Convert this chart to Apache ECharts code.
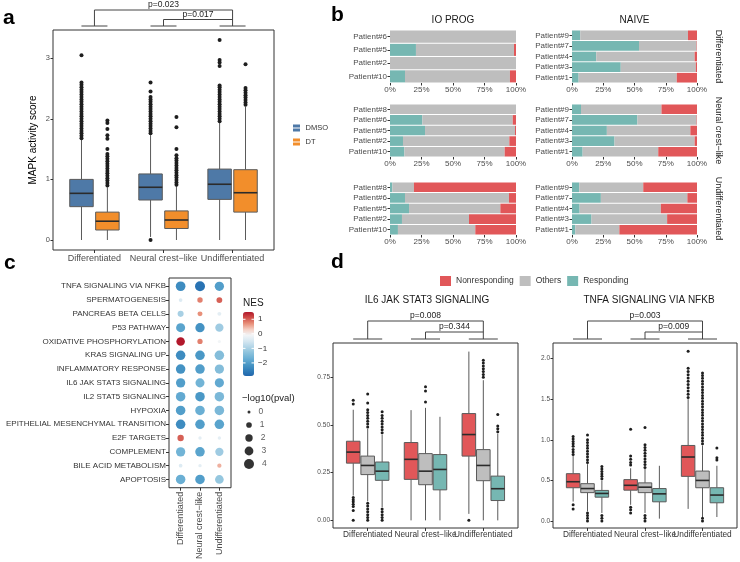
<!DOCTYPE html>
<html>
<head>
<meta charset="utf-8">
<title>MAPK activity and response panels</title>
<script src="https://cdn.jsdelivr.net/npm/echarts@6/dist/echarts.min.js"></script>
<style>html,body{margin:0;padding:0;background:#fff}</style>
</head>
<body>
<div id="main" style="width:740px;height:562px;"></div>
<script>
const FONT = '"Liberation Sans", Arial, Helvetica, sans-serif';
const AX = '#4D4D4D';
const LINE = '#333';

const groups = ['Differentiated', 'Neural crest\u2212like', 'Undifferentiated'];

// ---- panel a: [low whisker, q1, median, q3, high whisker]
const mapkDMSO = [[0, 0.55, 0.77, 1.0, 1.65], [0.05, 0.66, 0.87, 1.09, 1.73], [0, 0.67, 0.92, 1.17, 1.93]];
const mapkDT = [[0, 0.165, 0.31, 0.46, 0.87], [0, 0.19, 0.33, 0.48, 0.89], [0, 0.46, 0.78, 1.16, 2.2]];
const mapkDMSOOut = [
  [1.68, 1.72, 1.76, 1.8, 1.84, 1.88, 1.92, 1.96, 2.0, 2.04, 2.08, 2.12, 2.16, 2.2, 2.24, 2.28, 2.32, 2.36, 2.4, 2.44, 2.48, 2.52, 2.56, 2.6, 3.05],
  [0.0, 1.76, 1.8, 1.84, 1.88, 1.92, 1.96, 2.0, 2.04, 2.08, 2.12, 2.16, 2.2, 2.24, 2.28, 2.32, 2.36, 2.45, 2.6],
  [1.96, 2.0, 2.04, 2.08, 2.12, 2.16, 2.2, 2.24, 2.28, 2.32, 2.36, 2.4, 2.44, 2.48, 2.52, 2.55, 2.87, 2.93, 2.97, 3.3]
];
const mapkDTOut = [
  [0.9, 0.94, 0.98, 1.02, 1.06, 1.1, 1.14, 1.18, 1.22, 1.26, 1.3, 1.34, 1.38, 1.42, 1.5, 1.67, 1.73, 1.83, 1.93, 1.97],
  [0.91, 0.95, 0.99, 1.03, 1.07, 1.11, 1.15, 1.19, 1.23, 1.27, 1.31, 1.35, 1.4, 1.5, 1.86, 2.03],
  [2.23, 2.27, 2.31, 2.35, 2.39, 2.43, 2.47, 2.51, 2.9]
];
const mapkP = ['p=0.023', 'p=0.017'];

// ---- panel b: percent of cells per patient (top to bottom)
const ioPatients = [
  ['Patient#6', 'Patient#5', 'Patient#2', 'Patient#10'],
  ['Patient#8', 'Patient#6', 'Patient#5', 'Patient#2', 'Patient#10'],
  ['Patient#8', 'Patient#6', 'Patient#5', 'Patient#2', 'Patient#10']
];
const naivePatients = ['Patient#9', 'Patient#7', 'Patient#4', 'Patient#3', 'Patient#1'];
const ioResp = [[0, 20.6, 0, 11.9], [0, 25.7, 27.8, 10.3, 11.4], [1.9, 11.9, 15.1, 9.5, 6.3]];
const ioOther = [[100, 77.8, 100, 83.3], [100, 71.7, 71.4, 84.4, 79.6], [17.1, 82.5, 72.5, 53.2, 61.4]];
const ioNonresp = [[0, 1.6, 0, 4.8], [0, 2.6, 0.8, 5.3, 9.0], [81.0, 5.6, 12.4, 37.3, 32.3]];
const naiveResp = [[6.6, 53.6, 19.4, 39.0, 5.3], [7.2, 52.3, 27.9, 34.0, 8.5], [5.8, 23.1, 6.1, 15.6, 2.7]];
const naiveOther = [[86.2, 46.1, 78.7, 60.0, 78.5], [64.4, 47.4, 66.8, 64.1, 60.5], [51.2, 69.2, 65.0, 60.5, 35.2]];
const naiveNonresp = [[7.2, 0.3, 1.9, 1.0, 16.2], [28.4, 0.3, 5.3, 1.9, 31.0], [43.0, 7.7, 28.9, 23.9, 62.1]];
const cohorts = ['IO PROG', 'NAIVE'];

// ---- panel c: hallmark GSEA
const hallmarks = ['TNFA SIGNALING VIA NFKB', 'SPERMATOGENESIS', 'PANCREAS BETA CELLS', 'P53 PATHWAY',
  'OXIDATIVE PHOSPHORYLATION', 'KRAS SIGNALING UP', 'INFLAMMATORY RESPONSE', 'IL6 JAK STAT3 SIGNALING',
  'IL2 STAT5 SIGNALING', 'HYPOXIA', 'EPITHELIAL MESENCHYMAL TRANSITION', 'E2F TARGETS', 'COMPLEMENT',
  'BILE ACID METABOLISM', 'APOPTOSIS'];
const nesDiff = [-2.3, -0.4, -1.0, -1.9, 1.5, -2.3, -2.2, -2.0, -1.8, -2.0, -2.3, 1.0, -1.6, -0.4, -1.7];
const nesNeural = [-2.7, 0.8, 0.7, -2.2, 0.8, -2.1, -2.0, -1.6, -2.1, -1.7, -2.0, -0.3, -1.9, -0.3, -2.0];
const nesUndiff = [-2.0, 1.0, -0.3, -1.1, -0.1, -1.4, -1.4, -1.8, -1.5, -1.5, -1.9, -0.3, -1.1, 0.5, -1.2];
const logpDiff = [3.7, 0.2, 1.2, 3.2, 2.8, 3.6, 3.6, 3.4, 3.6, 3.6, 3.6, 1.4, 3.4, 0.2, 3.6];
const logpNeural = [4.0, 0.9, 0.7, 3.4, 0.8, 3.6, 3.6, 3.2, 3.6, 3.6, 3.6, 0.1, 3.6, 0.1, 3.6];
const logpUndiff = [3.4, 1.1, 0.3, 2.6, 0.05, 3.6, 3.4, 3.3, 3.6, 3.6, 3.6, 0.1, 2.6, 0.4, 2.9];
const sizeLegend = [0, 1, 2, 3, 4];
const nesTicks = [1, 0, -1, -2];

// ---- panel d: [low, q1, median, q3, high]
const il6Non = [[0.13, 0.30, 0.358, 0.415, 0.58], [0.0, 0.215, 0.32, 0.408, 0.578], [0.034, 0.337, 0.45, 0.56, 0.885]];
const il6Oth = [[0.1, 0.24, 0.288, 0.337, 0.48], [0.0, 0.187, 0.258, 0.35, 0.59], [0.0, 0.208, 0.288, 0.371, 0.735]];
const il6Res = [[0.07, 0.21, 0.258, 0.306, 0.45], [0.0, 0.16, 0.267, 0.345, 0.543], [0.0, 0.104, 0.166, 0.232, 0.455]];
const il6NonOut = [[0.0, 0.052, 0.073, 0.085, 0.097, 0.108, 0.12, 0.61, 0.63], [], [0.0]];
const il6OthOut = [[0.0, 0.015, 0.03, 0.045, 0.06, 0.075, 0.09, 0.49, 0.505, 0.52, 0.535, 0.55, 0.565, 0.58, 0.616, 0.662],
  [0.62, 0.678, 0.70], [0.75, 0.765, 0.78, 0.795, 0.81, 0.825, 0.84]];
const il6ResOut = [[0.0, 0.015, 0.03, 0.045, 0.06, 0.46, 0.475, 0.49, 0.505, 0.52, 0.535, 0.55, 0.57], [], [0.465, 0.48, 0.495, 0.555]];
const il6P = ['p=0.008', 'p=0.344'];

const tnfNon = [[0.24, 0.41, 0.484, 0.583, 0.8], [0.2, 0.38, 0.44, 0.51, 0.65], [0.15, 0.55, 0.788, 0.93, 1.5]];
const tnfOth = [[0.12, 0.35, 0.40, 0.46, 0.7], [0.1, 0.35, 0.417, 0.47, 0.64], [0.05, 0.41, 0.5, 0.615, 0.93]];
const tnfRes = [[0.1, 0.294, 0.34, 0.377, 0.5], [0.03, 0.237, 0.335, 0.4, 0.68], [0.05, 0.225, 0.32, 0.41, 0.68]];
const tnfNonOut = [[0.15, 0.2, 0.82, 0.85, 0.88, 0.92, 0.95, 0.98, 1.01, 1.04], [0.1, 0.14, 0.17, 0.69, 0.72, 0.76, 0.8, 1.13],
  [1.52, 1.56, 1.6, 1.64, 1.68, 1.72, 1.76, 1.8, 1.84, 1.88, 2.09]];
const tnfOthOut = [[0.0, 0.035, 0.07, 0.1, 0.72, 0.755, 0.79, 0.825, 0.86, 0.895, 0.93, 0.965, 1.0, 1.06],
  [0.0, 0.035, 0.07, 0.66, 0.695, 0.73, 0.765, 0.8, 0.835, 0.87, 0.905, 0.94, 1.15],
  [0.0, 0.035, 0.95, 0.985, 1.02, 1.055, 1.09, 1.125, 1.16, 1.195, 1.23, 1.265, 1.3, 1.335, 1.37, 1.405, 1.44, 1.475,
    1.51, 1.545, 1.58, 1.615, 1.65, 1.685, 1.72, 1.755, 1.79, 1.82]];
const tnfResOut = [[0.0, 0.035, 0.07, 0.52, 0.55, 0.58, 0.61, 0.64, 0.67], [], [0.75, 0.78, 0.9]];
const tnfP = ['p=0.003', 'p=0.009'];

const C_DMSO = '#4E79A7', C_DT = '#F28E2B';
const C_NON = '#E15759', C_OTH = '#BEBEBE', C_RES = '#76B7B2';

const chart = echarts.init(document.getElementById('main'));

function boxRender(offset, width) {
  return function (params, api) {
    const x = api.value(0) + offset;
    const lo = api.coord([x, api.value(1)]);
    const q1 = api.coord([x, api.value(2)]);
    const md = api.coord([x, api.value(3)]);
    const q3 = api.coord([x, api.value(4)]);
    const hi = api.coord([x, api.value(5)]);
    const w = api.size([width, 0])[0];
    const fill = api.visual('color');
    return {
      type: 'group',
      children: [
        { type: 'line', shape: { x1: lo[0], y1: lo[1], x2: q1[0], y2: q1[1] }, style: { stroke: '#5A5A5A', lineWidth: 1 } },
        { type: 'line', shape: { x1: q3[0], y1: q3[1], x2: hi[0], y2: hi[1] }, style: { stroke: '#5A5A5A', lineWidth: 1 } },
        { type: 'rect', shape: { x: q1[0] - w / 2, y: q3[1], width: w, height: q1[1] - q3[1] }, style: { fill: fill, stroke: '#5A5A5A', lineWidth: 1 } },
        { type: 'line', shape: { x1: md[0] - w / 2, y1: md[1], x2: md[0] + w / 2, y2: md[1] }, style: { stroke: '#2B2B2B', lineWidth: 1.6 } }
      ]
    };
  };
}

function boxSeries(name, stats, offset, width, color, axis) {
  return {
    name: name, type: 'custom', xAxisIndex: axis, yAxisIndex: axis,
    renderItem: boxRender(offset, width),
    itemStyle: { color: color },
    encode: { x: 0, y: [1, 2, 3, 4, 5] },
    data: stats.map((s, i) => [i + 1].concat(s))
  };
}

function outlierSeries(name, outs, offset, axis, size) {
  const pts = [];
  outs.forEach((vals, i) => vals.forEach(v => pts.push([i + 1 + offset, v])));
  return {
    name: name, type: 'scatter', xAxisIndex: axis, yAxisIndex: axis, data: pts,
    symbolSize: size, itemStyle: { color: '#1E1E1E', opacity: 1 }, z: 3
  };
}

function groupXAxis(grid, fontSize, color, showLabel) {
  return {
    gridIndex: grid, type: 'value', min: 0.4, max: 3.6,
    axisLine: { show: false, onZero: false }, splitLine: { show: false },
    axisTick: { show: true, customValues: [1, 2, 3], length: 3, lineStyle: { color: LINE } },
    axisLabel: { show: showLabel !== false, customValues: [1, 2, 3], formatter: v => groups[Math.round(v) - 1], fontSize: fontSize,
      color: color, margin: 4, hideOverlap: false, showMinLabel: true, showMaxLabel: true }
  };
}

function valueYAxis(grid, min, max, ticks, fontSize, digits) {
  return {
    gridIndex: grid, type: 'value', min: min, max: max,
    axisLine: { show: false, onZero: false }, splitLine: { show: false },
    axisTick: { show: true, customValues: ticks, length: 2.5, lineStyle: { color: LINE } },
    axisLabel: { customValues: ticks, fontSize: fontSize, color: AX, margin: 3,
      formatter: v => digits == null ? String(v) : v.toFixed(digits) }
  };
}

const frame = { show: true, borderColor: LINE, borderWidth: 1, backgroundColor: 'transparent' };
const grids = [], xAxes = [], yAxes = [], series = [];

// panel a (axis 0)
grids.push(Object.assign({ left: 53, top: 30, width: 221, height: 220 }, frame));
xAxes.push(groupXAxis(0, 9, AX));
yAxes.push(Object.assign(valueYAxis(0, -0.165, 3.465, [0, 1, 2, 3], 7.5, null), {
  name: 'MAPK activity score', nameLocation: 'middle', nameGap: 15,
  nameTextStyle: { fontSize: 10, color: '#000' }
}));
series.push(boxSeries('DMSO', mapkDMSO, -0.1875, 0.34, C_DMSO, 0));
series.push(boxSeries('DT', mapkDT, 0.1875, 0.34, C_DT, 0));
series.push(outlierSeries('a out DMSO', mapkDMSOOut, -0.1875, 0, 4));
series.push(outlierSeries('a out DT', mapkDTOut, 0.1875, 0, 4));

// panel b (axes 1..6)
const rowTops = [30, 104, 182];
for (let r = 0; r < 3; r++) {
  for (let c = 0; c < 2; c++) {
    const idx = grids.length;
    grids.push({ left: c ? 572 : 390, top: rowTops[r], width: c ? 125 : 126, height: 53 });
    xAxes.push({
      gridIndex: idx, type: 'value', min: 0, max: 100, interval: 25,
      axisLine: { show: false, onZero: false }, splitLine: { show: false },
      axisTick: { show: true, length: 2.5, lineStyle: { color: LINE } },
      axisLabel: { formatter: '{value}%', fontSize: 8, color: AX, margin: 3 }
    });
    yAxes.push({
      gridIndex: idx, type: 'category', inverse: true, data: c ? naivePatients : ioPatients[r],
      axisLine: { show: false }, splitLine: { show: false },
      axisTick: { show: true, length: 2.5, alignWithLabel: true, lineStyle: { color: LINE } },
      axisLabel: { fontSize: 8, color: AX, margin: 3 }
    });
    const parts = c
      ? [['Responding', naiveResp[r], C_RES], ['Others', naiveOther[r], C_OTH], ['Nonresponding', naiveNonresp[r], C_NON]]
      : [['Responding', ioResp[r], C_RES], ['Others', ioOther[r], C_OTH], ['Nonresponding', ioNonresp[r], C_NON]];
    parts.forEach(p => series.push({
      name: p[0], type: 'bar', stack: 'b' + idx, xAxisIndex: idx, yAxisIndex: idx,
      data: p[1], itemStyle: { color: p[2] }, barCategoryGap: '9%'
    }));
  }
}

// panel c (axis 7) and size legend (axis 10)
grids.push(Object.assign({ left: 169, top: 278, width: 62, height: 213 }, frame));
xAxes.push(groupXAxis(7, 9, AX));
xAxes[7].axisLabel.rotate = 90;
yAxes.push({
  gridIndex: 7, type: 'value', min: 0.4, max: 15.6, inverse: true,
  axisLine: { show: false, onZero: false }, splitLine: { show: false },
  axisTick: { show: true, customValues: hallmarks.map((h, i) => i + 1), length: 3, lineStyle: { color: LINE } },
  axisLabel: { customValues: hallmarks.map((h, i) => i + 1), formatter: v => hallmarks[Math.round(v) - 1],
    fontSize: 8, color: '#333', margin: 3, hideOverlap: false }
});
const dotSize = val => Math.sqrt(9 + 22.75 * val);
const dotData = [];
[[nesDiff, logpDiff], [nesNeural, logpNeural], [nesUndiff, logpUndiff]].forEach((col, ci) => {
  hallmarks.forEach((h, ri) => dotData.push([ci + 1, ri + 1, col[0][ri], col[1][ri]]));
});
const dotSeriesIndex = series.length;
series.push({
  name: 'NES', type: 'scatter', xAxisIndex: 7, yAxisIndex: 7, data: dotData,
  symbolSize: v => dotSize(v[3]), itemStyle: { opacity: 1 }
});

// panel d (axes 8, 9); group names placed below as text (they touch each other)
grids.push(Object.assign({ left: 333, top: 343, width: 185, height: 185 }, frame));
xAxes.push(groupXAxis(8, 8.5, '#333', false));
yAxes.push(valueYAxis(8, -0.04, 0.93, [0, 0.25, 0.5, 0.75], 6.5, 2));
series.push(boxSeries('Nonresponding', il6Non, -0.25, 0.235, C_NON, 8));
series.push(boxSeries('Others', il6Oth, 0, 0.235, C_OTH, 8));
series.push(boxSeries('Responding', il6Res, 0.25, 0.235, C_RES, 8));
series.push(outlierSeries('d out 1', il6NonOut, -0.25, 8, 3));
series.push(outlierSeries('d out 2', il6OthOut, 0, 8, 3));
series.push(outlierSeries('d out 3', il6ResOut, 0.25, 8, 3));

grids.push(Object.assign({ left: 553, top: 343, width: 184, height: 185 }, frame));
xAxes.push(groupXAxis(9, 8.5, '#333', false));
yAxes.push(valueYAxis(9, -0.085, 2.19, [0, 0.5, 1, 1.5, 2], 6.5, 1));
series.push(boxSeries('Nonresponding', tnfNon, -0.25, 0.235, C_NON, 9));
series.push(boxSeries('Others', tnfOth, 0, 0.235, C_OTH, 9));
series.push(boxSeries('Responding', tnfRes, 0.25, 0.235, C_RES, 9));
series.push(outlierSeries('d out 4', tnfNonOut, -0.25, 9, 3));
series.push(outlierSeries('d out 5', tnfOthOut, 0, 9, 3));
series.push(outlierSeries('d out 6', tnfResOut, 0.25, 9, 3));

// size legend for panel c (axis 10)
grids.push({ left: 239, top: 405.5, width: 20, height: 65 });
xAxes.push({ gridIndex: 10, type: 'value', min: 0, max: 1, show: false });
yAxes.push({ gridIndex: 10, type: 'value', min: -0.5, max: 4.5, inverse: true, show: false });
series.push({
  name: 'size legend', type: 'scatter', xAxisIndex: 10, yAxisIndex: 10,
  data: sizeLegend.map(v => [0.5, v]), symbolSize: v => dotSize(v[1]),
  itemStyle: { color: '#000' },
  label: { show: true, position: 'right', distance: 8, formatter: p => String(p.value[1]), fontSize: 8.5, color: '#333' }
});

chart.setOption({
  animation: false,
  textStyle: { fontFamily: FONT },
  grid: grids, xAxis: xAxes, yAxis: yAxes, series: series,
  legend: [
    {
      left: 288, top: 119, orient: 'vertical', itemWidth: 8, itemHeight: 7, itemGap: 6,
      textStyle: { fontSize: 7.5, color: '#333' },
      data: [
        { name: 'DMSO', icon: 'path://M0,0H10V4.2H0Z M0,5.8H10V10H0Z' },
        { name: 'DT', icon: 'path://M0,0H10V4.2H0Z M0,5.8H10V10H0Z' }
      ]
    },
    {
      left: 435, top: 271, orient: 'horizontal', itemWidth: 11, itemHeight: 10, itemGap: 6, icon: 'rect',
      textStyle: { fontSize: 8.5, color: '#333' },
      data: ['Nonresponding', 'Others', 'Responding']
    }
  ],
  visualMap: {
    type: 'continuous', seriesIndex: dotSeriesIndex, dimension: 2,
    min: -2.9, max: 1.5, calculable: false, hoverLink: false,
    left: 243, top: 312, itemWidth: 11, itemHeight: 64, padding: 0,
    inRange: { color: ['#2166AC', '#3280BA', '#4A98C6', '#6AAFD4', '#8CC2DC', '#B2D5E7', '#D6E7F1',
      '#F2F5F7', '#F5D0C4', '#E8907A', '#D0504A', '#B2182B'] }
  }
});

// annotations: panel letters, strips, titles, colourbar ticks, significance brackets
const g = [];
function txt(x, y, text, size, opt) {
  g.push(Object.assign({
    type: 'text', x: x, y: y,
    style: Object.assign({ text: text, fontSize: size, fontFamily: FONT, fill: '#1A1A1A', align: 'left', verticalAlign: 'middle' }, opt && opt.style || {})
  }, opt && opt.el || {}));
}
txt(3, 18, 'a', 21, { style: { fontWeight: 'bold', fill: '#000' } });
txt(331, 15, 'b', 21, { style: { fontWeight: 'bold', fill: '#000' } });
txt(4, 263, 'c', 21, { style: { fontWeight: 'bold', fill: '#000' } });
txt(331, 262, 'd', 21, { style: { fontWeight: 'bold', fill: '#000' } });

txt(453, 20, cohorts[0], 10, { style: { align: 'center' } });
txt(634.5, 20, cohorts[1], 10, { style: { align: 'center' } });
groups.forEach((name, r) => {
  txt(718, rowTops[r] + 26.5, name, 9, { style: { align: 'center' }, el: { rotation: -Math.PI / 2 } });
});

txt(427, 300, 'IL6 JAK STAT3 SIGNALING', 10, { style: { align: 'center' } });
txt(649, 300, 'TNFA SIGNALING VIA NFKB', 10, { style: { align: 'center' } });

txt(243, 303, 'NES', 10);
nesTicks.forEach(v => {
  const y = 312 + (1.5 - v) / 4.4 * 64;
  txt(258, y, v < 0 ? '\u2212' + Math.abs(v) : String(v), 8, { style: { fill: '#333' } });
  g.push({ type: 'line', shape: { x1: 243, y1: y, x2: 245.5, y2: y }, style: { stroke: '#fff', lineWidth: 1 }, z: 10 });
  g.push({ type: 'line', shape: { x1: 251.5, y1: y, x2: 254, y2: y }, style: { stroke: '#fff', lineWidth: 1 }, z: 10 });
});
txt(242, 398, '\u2212log10(pval)', 9.5);

function brackets(axis, yBase, yUp, yLow, half, labels, groupLabelY) {
  const cx = [1, 2, 3].map(v => chart.convertToPixel({ xAxisIndex: axis }, v));
  const st = { stroke: '#444', lineWidth: 1, fill: null };
  cx.forEach(c => g.push({ type: 'line', shape: { x1: c - half, y1: yBase, x2: c + half, y2: yBase }, style: st }));
  g.push({ type: 'polyline', shape: { points: [[cx[0], yBase], [cx[0], yUp], [cx[2], yUp], [cx[2], yBase]] }, style: st });
  g.push({ type: 'polyline', shape: { points: [[cx[1], yBase], [cx[1], yLow], [cx[2], yLow]] }, style: st });
  txt((cx[0] + cx[2]) / 2, yUp - 0.5, labels[0], 8.5, { style: { align: 'center', verticalAlign: 'bottom', fill: '#222' } });
  txt((cx[1] + cx[2]) / 2, yLow - 0.5, labels[1], 8.5, { style: { align: 'center', verticalAlign: 'bottom', fill: '#222' } });
  if (groupLabelY) {
    cx.forEach((c, i) => txt(c, groupLabelY, groups[i], 8.3, { style: { align: 'center', fill: '#333' } }));
  }
}
brackets(0, 26, 10, 19.5, 13, mapkP);
brackets(8, 339, 321, 332, 14.5, il6P, 535);
brackets(9, 339, 321, 332, 14.5, tnfP, 535);

chart.setOption({ graphic: { elements: g } });
</script>
</body>
</html>
